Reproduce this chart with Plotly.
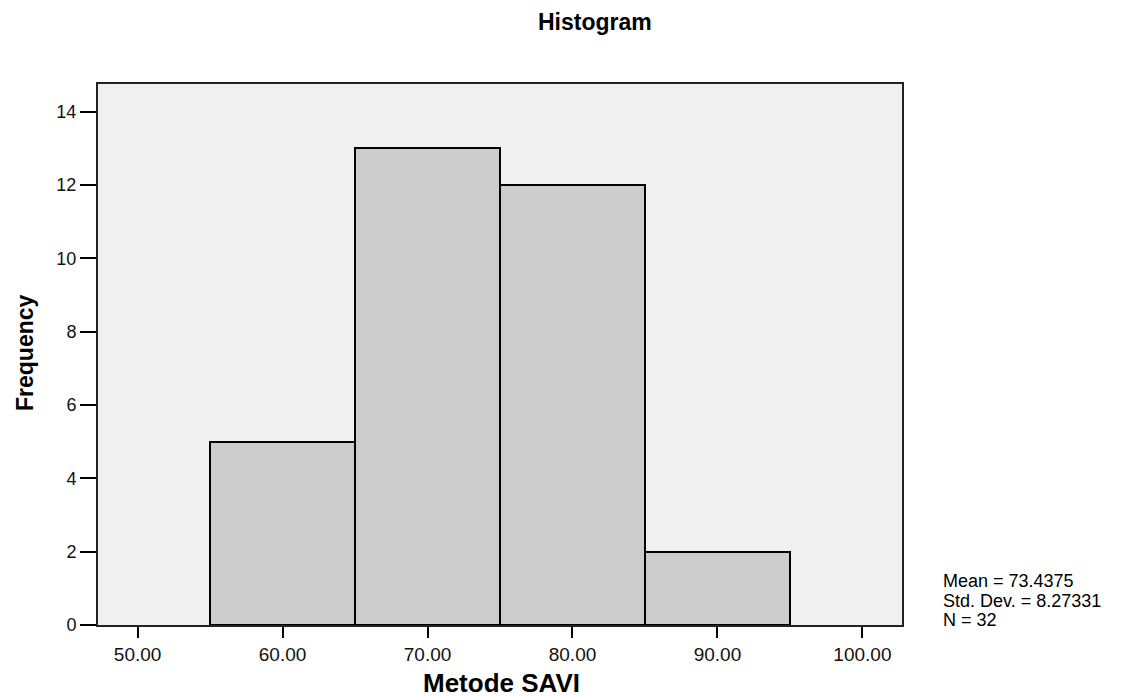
import plotly.graph_objects as go

# Data
bin_centers = [60, 70, 80, 90]
bin_width = 10
frequencies = [5, 13, 12, 2]
x_ticks = [50, 60, 70, 80, 90, 100]
x_tick_labels = ["50.00", "60.00", "70.00", "80.00", "90.00", "100.00"]
y_ticks = [0, 2, 4, 6, 8, 10, 12, 14]
stats_lines = ["Mean = 73.4375", "Std. Dev. = 8.27331", "N = 32"]

FONT = "Liberation Sans, Arial, sans-serif"
OFF = 8  # default page body margin
W, H = 1132 - OFF, 698 - OFF
ML, MT = 98 - OFF, 84 - OFF
MR = W - (902 - OFF)
MB = H - (625 - OFF)
PW = W - ML - MR
PH = H - MT - MB


def px_x(px):
    return (px - OFF - ML) / PW


def px_y(py):
    return (H - MB - (py - OFF)) / PH


fig = go.Figure()
fig.add_trace(go.Bar(
    x=bin_centers,
    y=frequencies,
    width=[bin_width] * len(bin_centers),
    marker=dict(color="#cccccc", line=dict(color="#000000", width=2)),
    hoverinfo="x+y",
))

annotations = [
    dict(text="<b>Histogram</b>", x=px_x(595), y=px_y(22), xref="paper", yref="paper",
         xanchor="center", yanchor="middle", showarrow=False, borderpad=0,
         font=dict(family=FONT, size=23, color="#000000")),
    dict(text="<b>Metode SAVI</b>", x=px_x(501), y=px_y(683), xref="paper", yref="paper",
         xanchor="center", yanchor="middle", showarrow=False,
         font=dict(family=FONT, size=26, color="#000000")),
    dict(text="<b>Frequency</b>", x=px_x(25), y=px_y(353), xref="paper", yref="paper",
         xanchor="center", yanchor="middle", showarrow=False, textangle=-90,
         font=dict(family=FONT, size=23, color="#000000")),
]
for i, line in enumerate(stats_lines):
    annotations.append(dict(
        text=line, x=px_x(941), y=px_y(581 + i * 19.5), xref="paper", yref="paper",
        xanchor="left", yanchor="middle", showarrow=False,
        font=dict(family=FONT, size=18, color="#000000")))

fig.update_layout(
    width=W, height=H,
    margin=dict(l=ML, r=MR, t=MT, b=MB, pad=0),
    paper_bgcolor="#ffffff",
    plot_bgcolor="#f0f0f0",
    showlegend=False,
    bargap=0,
    annotations=annotations,
    xaxis=dict(
        range=[47.27, 102.73], tickvals=x_ticks, ticktext=x_tick_labels,
        showgrid=False, zeroline=False, showline=True, linecolor="#222222", linewidth=2,
        mirror=True, ticks="outside", ticklen=11, tickwidth=2, tickcolor="#000000",
        tickfont=dict(family=FONT, size=19, color="#111111"),
    ),
    yaxis=dict(
        range=[0, 14.75], tickvals=y_ticks,
        showgrid=False, zeroline=False, showline=True, linecolor="#222222", linewidth=2,
        mirror=True, ticks="outside", ticklen=16, tickwidth=2, tickcolor="#000000",
        tickfont=dict(family=FONT, size=18, color="#111111"),
    ),
)

fig.write_html("out.html")
